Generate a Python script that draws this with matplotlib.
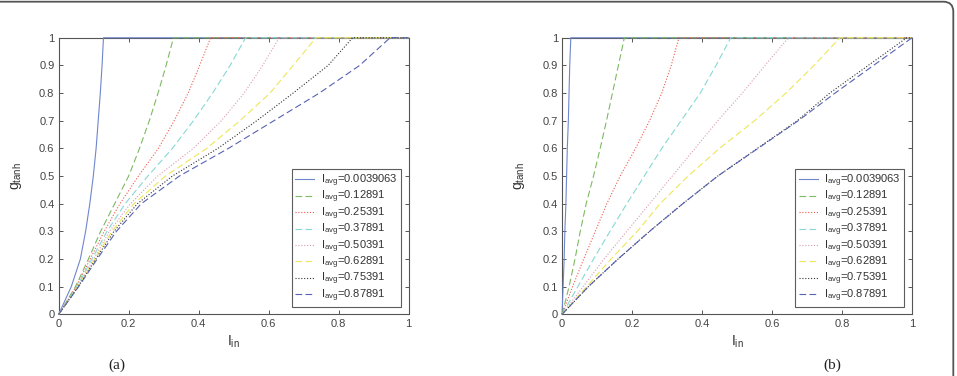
import numpy as np
import matplotlib
matplotlib.use('Agg')
from matplotlib import pyplot as plt
from matplotlib.patches import FancyBboxPatch

plt.rcParams['font.family'] = ['Liberation Sans', 'DejaVu Sans']
plt.rcParams['mathtext.fontset'] = 'custom'
plt.rcParams['mathtext.rm'] = 'Liberation Sans'
plt.rcParams['mathtext.it'] = 'Liberation Sans'

# legend values of I_avg
i_avg = ['0.0039063', '0.12891', '0.25391', '0.37891', '0.50391', '0.62891', '0.75391', '0.87891']

g_levels = [0.1, 0.2, 0.3, 0.4, 0.5, 0.6, 0.7, 0.8, 0.9, 1.0]

# panel (a): I_in for each g level
a_curves = [
    [0.036, 0.062, 0.077, 0.089, 0.099, 0.107, 0.113, 0.119, 0.124, 0.128],
    [0.048, 0.085, 0.120, 0.160, 0.200, 0.231, 0.259, 0.284, 0.307, 0.328],
    [0.050, 0.090, 0.130, 0.175, 0.228, 0.285, 0.330, 0.370, 0.403, 0.434],
    [0.052, 0.095, 0.138, 0.190, 0.255, 0.325, 0.385, 0.440, 0.490, 0.534],
    [0.054, 0.100, 0.145, 0.205, 0.283, 0.385, 0.465, 0.530, 0.583, 0.630],
    [0.055, 0.103, 0.152, 0.215, 0.305, 0.423, 0.518, 0.604, 0.670, 0.735],
    [0.056, 0.106, 0.158, 0.225, 0.325, 0.455, 0.566, 0.670, 0.770, 0.840],
    [0.057, 0.110, 0.165, 0.236, 0.345, 0.485, 0.615, 0.745, 0.860, 0.947],
]

# panel (b)
b_curves = [
    [0.003, 0.006, 0.008, 0.011, 0.013, 0.015, 0.018, 0.020, 0.022, 0.025],
    [0.020, 0.037, 0.052, 0.069, 0.090, 0.109, 0.127, 0.144, 0.161, 0.178],
    [0.030, 0.062, 0.095, 0.128, 0.166, 0.210, 0.250, 0.285, 0.312, 0.334],
    [0.045, 0.090, 0.137, 0.185, 0.235, 0.285, 0.340, 0.395, 0.440, 0.482],
    [0.060, 0.120, 0.185, 0.250, 0.315, 0.380, 0.445, 0.515, 0.580, 0.647],
    [0.070, 0.140, 0.215, 0.280, 0.360, 0.450, 0.550, 0.640, 0.720, 0.794],
    [0.075, 0.160, 0.250, 0.345, 0.445, 0.558, 0.672, 0.765, 0.875, 0.985],
    [0.075, 0.160, 0.250, 0.345, 0.445, 0.560, 0.675, 0.780, 0.890, 1.000],
]

colors = ['#6f86cc', '#7dba62', '#ef5a4e', '#86d8d4', '#d99ab8', '#eee65a', '#303030', '#5662b4']
dash = (6, 3)
dot = (1, 1.6)
styles = [None, dash, dot, dash, dot, dash, dot, dash]

fig = plt.figure(figsize=(9.57, 3.76), dpi=100)

# outer frame with rounded corner
frame = FancyBboxPatch((-0.2, -0.2), 9.533 + 0.2, 3.743 + 0.2,
                       boxstyle='round,pad=0,rounding_size=0.1',
                       transform=fig.dpi_scale_trans, fill=False,
                       edgecolor='#555555', linewidth=1.3)
fig.patches.append(frame)

positions = [[0.0613, 0.164, 0.3657, 0.7356], [0.5873, 0.164, 0.3657, 0.7356]]
panels = [a_curves, b_curves]
tags = ['(a)', '(b)']
tag_x = [117 / 957, 832 / 957]

for pos, curves, tag, tx in zip(positions, panels, tags, tag_x):
    ax = fig.add_axes(pos)
    for k, xs in enumerate(curves):
        x = [0.0] + xs + [1.0]
        y = [0.0] + g_levels + [1.0]
        line, = ax.plot(x, y, color=colors[k], lw=0.8, clip_on=False, zorder=3,
                        label=r'I$_{\rm avg}$=' + i_avg[k])
        if styles[k] is not None:
            line.set_dashes(styles[k])
    ax.set_xlim(0, 1)
    ax.set_ylim(0, 1)
    ax.set_xticks([0, 0.2, 0.4, 0.6, 0.8, 1])
    ax.set_xticklabels(['0', '0.2', '0.4', '0.6', '0.8', '1'])
    ax.set_yticks(np.arange(0, 1.01, 0.1))
    ax.set_yticklabels(['0', '0.1', '0.2', '0.3', '0.4', '0.5', '0.6', '0.7', '0.8', '0.9', '1'])
    ax.tick_params(direction='in', length=3, width=0.7, top=True, right=True,
                   labelsize=8, labelcolor='#444444', color='#555555', pad=3)
    for s in ax.spines.values():
        s.set_color('#555555')
        s.set_linewidth(0.8)
    ax.set_xlabel(r'I$_{\rm in}$', fontsize=10, color='#333333', labelpad=4)
    ax.set_ylabel(r'g$_{\rm tanh}$', fontsize=10, color='#333333', labelpad=11)
    leg = ax.legend(loc='lower right', bbox_to_anchor=(0.978, 0.026), borderaxespad=0,
                    fontsize=8, frameon=True, fancybox=False, handlelength=1.7,
                    handletextpad=0.6, labelspacing=0.0, borderpad=0.3)
    leg.get_frame().set_edgecolor('#333333')
    leg.get_frame().set_linewidth(0.8)
    for h, c, st in zip(leg.get_lines(), colors, styles):
        h.set_color(c)
        if st is not None:
            h.set_dashes(st)
    for t in leg.get_texts():
        t.set_color('#333333')
    fig.text(tx, 1 - 365 / 376, tag, family='Liberation Serif', fontsize=11,
             ha='center', va='center', color='#222222')

fig.savefig('out.png', dpi=100)
